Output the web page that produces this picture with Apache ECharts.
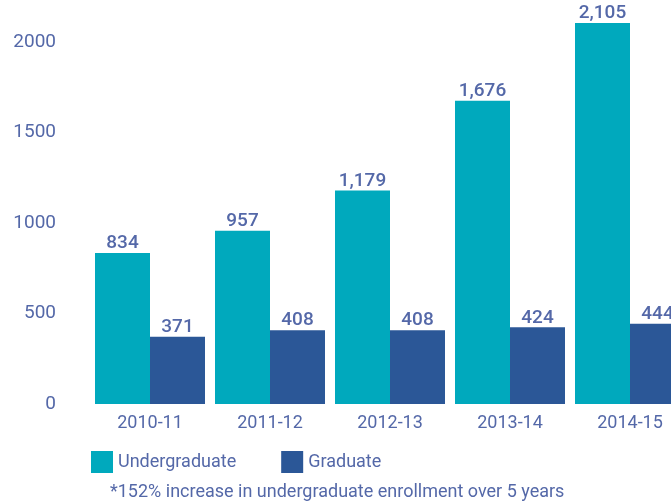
<!DOCTYPE html>
<html>
<head>
<meta charset="utf-8">
<script src="https://cdn.jsdelivr.net/npm/echarts@6/dist/echarts.min.js"></script>
<style>
  html, body { margin: 0; padding: 0; background: #fff; }
  #chart { width: 671px; height: 504px; }
</style>
</head>
<body>
<div id="chart"></div>
<script>
// enrollment by academic year
const years = ['2010-11', '2011-12', '2012-13', '2013-14', '2014-15']
const undergrad = [834, 957, 1179, 1676, 2105]
const graduate = [371, 408, 408, 424, 444]
const yTicks = [0, 500, 1000, 1500, 2000]
const footnote = '*152% increase in undergraduate enrollment over 5 years'

const TEAL = '#00a9bd'
const NAVY = '#2b5797'
const TEXT = '#5468a8'
const FONT = 'Roboto'

const chart = echarts.init(document.getElementById('chart'))

const valueLabel = {
  show: true,
  position: 'top',
  distance: 0,
  color: TEXT,
  fontFamily: FONT,
  fontSize: 19,
  fontWeight: 500,
  formatter: p => p.value.toLocaleString('en-US')
}

chart.setOption({
  animation: false,
  grid: { left: 90, width: 600, top: 42, bottom: 100, outerBoundsMode: 'none' },
  legend: {
    left: 86,
    top: 446,
    itemWidth: 22,
    itemHeight: 22,
    itemGap: 45,
    icon: 'rect',
    textStyle: { color: TEXT, fontFamily: FONT, fontSize: 18 },
    data: ['Undergraduate', 'Graduate']
  },
  graphic: [{
    type: 'text',
    left: 110,
    top: 483,
    style: { text: footnote, fill: TEXT, font: '18px ' + FONT }
  }],
  xAxis: {
    type: 'category',
    data: years,
    axisLine: { show: false },
    axisTick: { show: false },
    axisLabel: { color: TEXT, fontFamily: FONT, fontSize: 18, margin: 10 }
  },
  yAxis: {
    type: 'value',
    min: yTicks[0],
    max: yTicks[yTicks.length - 1],
    interval: 500,
    splitLine: { show: false },
    axisLine: { show: false },
    axisTick: { show: false },
    axisLabel: {
      color: TEXT, fontFamily: FONT, fontSize: 19, margin: 34,
      padding: [0, 0, 8, 0],
      formatter: v => String(v)
    }
  },
  series: [
    {
      name: 'Undergraduate',
      type: 'bar',
      data: undergrad,
      barWidth: 55,
      barGap: '0%',
      clip: false,
      itemStyle: { color: TEAL },
      label: valueLabel
    },
    {
      name: 'Graduate',
      type: 'bar',
      data: graduate,
      barWidth: 55,
      clip: false,
      itemStyle: { color: NAVY },
      label: valueLabel
    }
  ]
})
</script>
</body>
</html>
